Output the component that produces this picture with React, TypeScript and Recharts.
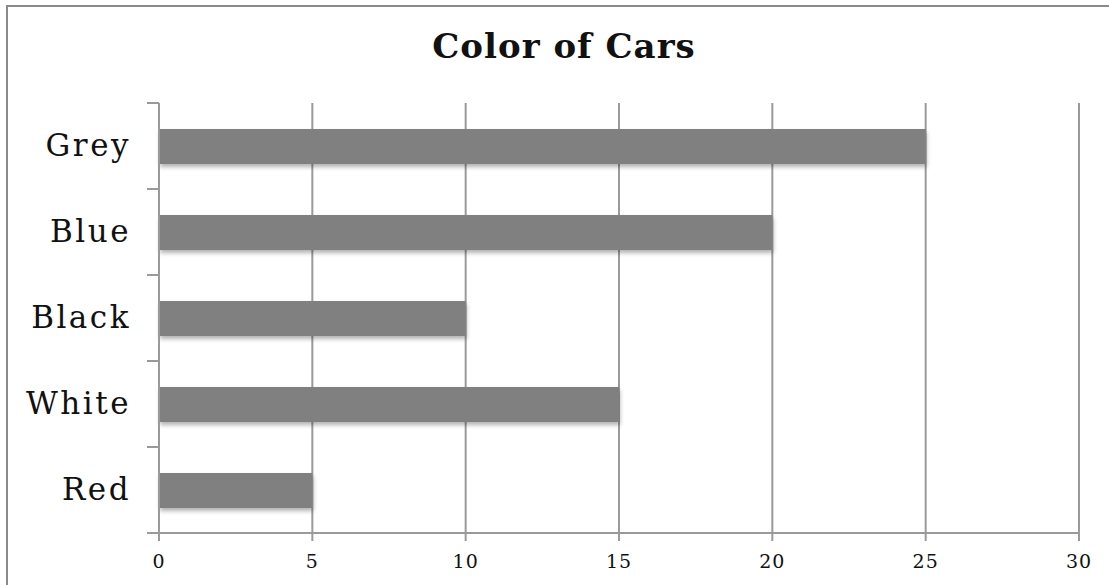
import { BarChart, Bar, XAxis, YAxis, CartesianGrid } from 'recharts'

const colors = ['Grey', 'Blue', 'Black', 'White', 'Red']
const counts = [25, 20, 10, 15, 5]
const xTicks = [0, 5, 10, 15, 20, 25, 30]

const data = colors.map((c, i) => ({ color: c, count: counts[i] }))

const LINE = '#9a9a9a'
const FONT = '"DejaVu Serif", "Liberation Serif", serif'

// category ticks sit between bands in the reference, so draw them by hand
function ColorTick(props: any) {
  const { x, y, payload, index } = props
  const half = payload?.offset ?? 43
  const last = index === colors.length - 1
  return (
    <g>
      <line x1={x - 12} x2={x} y1={y - half} y2={y - half} stroke={LINE} strokeWidth={2} />
      {last && <line x1={x - 12} x2={x} y1={y + half} y2={y + half} stroke={LINE} strokeWidth={2} />}
      <text x={x - 28} y={y - 1} textAnchor="end" dominantBaseline="central"
        style={{ fontFamily: FONT, fontSize: 31, letterSpacing: 2.5, fill: '#111' }}>
        {payload.value}
      </text>
    </g>
  )
}

const ShadowBar = (p: any) => (
  <rect x={p.x} y={p.y} width={p.width} height={p.height} fill="#808080" filter="url(#barShadow)" />
)

export default function App() {
  return (
    <div style={{ position: 'absolute', left: 0, top: 0, width: 1109, height: 585, overflow: 'hidden', background: '#fff' }}>
      <div style={{ position: 'absolute', left: 6, top: 5, width: 1200, height: 700, borderTop: '2px solid #8a8a8a', borderLeft: '2px solid #8a8a8a' }} />
      <div style={{ position: 'absolute', left: 0, width: 1128, top: 28, textAlign: 'center', fontFamily: FONT, fontWeight: 'bold', fontSize: 34, letterSpacing: 1, color: '#111', lineHeight: '36px' }}>
        Color of Cars
      </div>
      <div style={{ position: 'absolute', left: 0, top: 0 }}>
        <BarChart width={1109} height={585} data={data} layout="vertical"
          margin={{ top: 103, right: 30, bottom: 0, left: 0 }} barSize={35}>
          <defs>
            <filter id="barShadow" x="-5%" y="-30%" width="110%" height="170%">
              <feDropShadow dx={1} dy={3} stdDeviation={2} floodColor="#000" floodOpacity={0.3} />
            </filter>
          </defs>
          <CartesianGrid horizontal={false} stroke={LINE} strokeWidth={2} />
          <XAxis type="number" domain={[0, 30]} ticks={xTicks} height={52}
            axisLine={{ stroke: LINE, strokeWidth: 2 }} tickLine={{ stroke: LINE, strokeWidth: 2 }} tickSize={8} tickMargin={14}
            tick={{ fill: '#111', fontSize: 19, fontFamily: FONT, letterSpacing: 1 }} />
          <YAxis type="category" dataKey="color" width={159} tickSize={0} tickMargin={0}
            axisLine={{ stroke: LINE, strokeWidth: 2 }} tickLine={false} tick={<ColorTick />} />
          <Bar dataKey="count" shape={ShadowBar} isAnimationActive={false} />
        </BarChart>
      </div>
    </div>
  )
}
